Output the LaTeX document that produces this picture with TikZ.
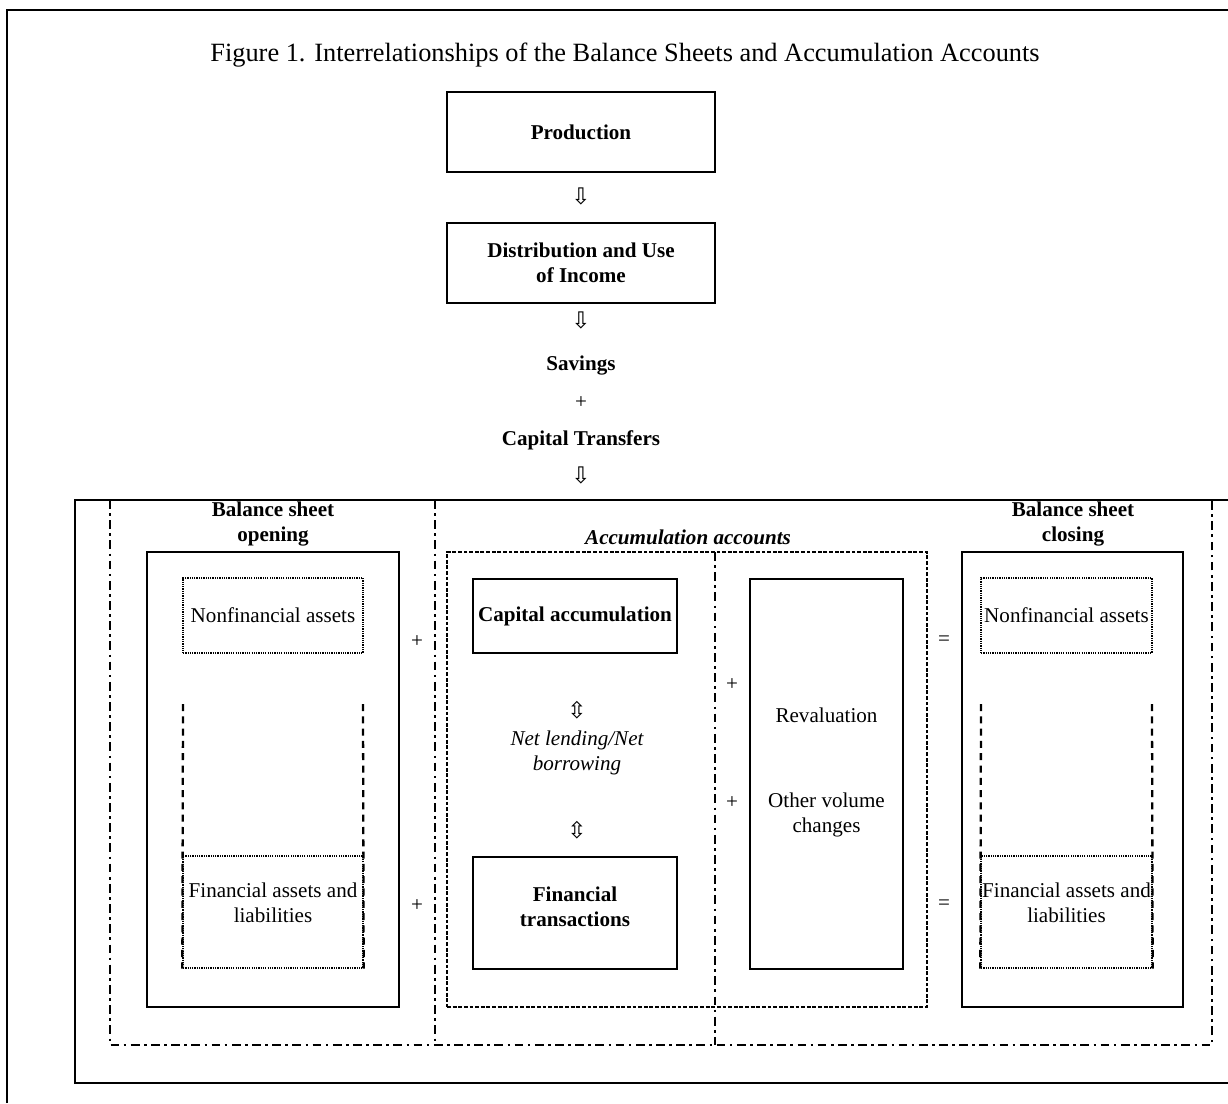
\documentclass[tikz,border=0pt,12pt]{standalone}
\usepackage{fontspec}
\setmainfont{Liberation Serif}
\newfontfamily\arrowfont{DejaVu Sans}
\tikzset{solidbox/.style = {draw, line width=1.4pt, inner sep=0pt, align=center},
         dotbox/.style = {draw, line width=0.8pt, dash pattern=on 0.7pt off 0.6pt, inner sep=0pt, align=center},
         dashbox/.style = {draw, line width=0.9pt, dash pattern=on 2.2pt off 1pt},
         dashdot/.style = {line width=1.4pt, dash pattern=on 5pt off 2.5pt on 1.5pt off 2.5pt},
         dashline/.style = {line width=1.3pt, dash pattern=on 4pt off 3pt},
         outerline/.style = {line width=1.4pt},
         flow/.style = {font=\arrowfont\fontsize{13}{15}\selectfont}}

\begin{document}
\begin{tikzpicture}[x=0.02cm, y=-0.02cm]
  \useasboundingbox (0,0) rectangle (1228,1103);
  \draw [outerline] (7,1103) -- (7,10) -- (1228,10);
  \draw [outerline] (1228,500) -- (75,500) -- (75,1083) -- (1228,1083);

  \node (title) at (625,55) {\fontsize{15}{18}\selectfont Figure 1. Interrelationships of the Balance Sheets and Accumulation Accounts};

  % income column
  \node [solidbox, minimum width=5.36cm, minimum height=1.6cm, font=\bfseries] (prod) at (581,132) {Production};
  \node [flow] (down1) at (581,196) {⇩};
  \node [solidbox, minimum width=5.36cm, minimum height=1.6cm, font=\bfseries] (dist) at (581,263) {Distribution and Use\\of Income};
  \node [flow] (down2) at (581,320) {⇩};
  \node [font=\bfseries] (sav) at (581,366) {Savings};
  \node (plus0) at (581,403) {+};
  \node [font=\bfseries] (captr) at (581,440) {Capital Transfers};
  \node [flow] (down3) at (581,475) {⇩};

  \draw [dashdot] (110,500) -- (110,1045) -- (1212,1045) -- (1212,500);
  \draw [dashdot] (435,500) -- (435,1045);
  \draw [dashdot] (715,552) -- (715,1045);

  % opening
  \node [font=\bfseries, align=center] (openlbl) at (273,524) {Balance sheet\\opening};
  \node [solidbox, minimum width=5.04cm, minimum height=9.1cm] (open) at (273,779.5) {};
  \node [dotbox, minimum width=3.6cm, minimum height=1.5cm] (nfopen) at (273,615.5) {Nonfinancial assets};
  \node [dotbox, minimum width=3.6cm, minimum height=2.24cm] (fopen) at (273,912) {};
  \node [align=center] (fopentxt) at (273,903) {Financial assets and\\liabilities};
  \draw [dashline] (183,704) -- (fopen.south west);
  \draw [dashline] (363,704) -- (fopen.south east);
  \node (plus1) at (417,642) {+};
  \node (plus2) at (417,906) {+};

  % accumulation
  \node [dashbox, minimum width=9.6cm, minimum height=9.1cm] (acc) at (687,779.5) {};
  \node [font=\bfseries\itshape] (acclbl) at (688,537) {Accumulation accounts};
  \node [solidbox, minimum width=4.08cm, minimum height=1.48cm, font=\bfseries] (capacc) at (575,616) {Capital accumulation};
  \node [flow] (updown1) at (577,710) {⇳};
  \node [font=\itshape, align=center] (netlend) at (577,753) {Net lending/Net\\borrowing};
  \node [flow] (updown2) at (577,830) {⇳};
  \node [solidbox, minimum width=4.08cm, minimum height=2.24cm] (fintr) at (575,913) {};
  \node [font=\bfseries, align=center] (fintrtxt) at (575,907) {Financial\\transactions};
  \node (plus3) at (732,685) {+};
  \node (plus4) at (732,803) {+};
  \node [solidbox, minimum width=3.06cm, minimum height=7.8cm] (reval) at (826.5,774) {};
  \node (revtxt) at (826.5,715) {Revaluation};
  \node [align=center] (othvol) at (826.5,815) {Other volume\\changes};
  \node (eq1) at (944,641) {=};
  \node (eq2) at (944,905) {=};

  % closing
  \node [font=\bfseries, align=center] (closelbl) at (1073,524) {Balance sheet\\closing};
  \node [solidbox, minimum width=4.42cm, minimum height=9.1cm] (close) at (1072.5,779.5) {};
  \node [dotbox, minimum width=3.42cm, minimum height=1.5cm] (nfclose) at (1066.5,615.5) {Nonfinancial assets};
  \node [dotbox, minimum width=3.42cm, minimum height=2.24cm] (fclose) at (1066.5,912) {};
  \node [align=center] (fclosetxt) at (1066.5,903) {Financial assets and\\liabilities};
  \draw [dashline] (981,704) -- (fclose.south west);
  \draw [dashline] (1152,704) -- (fclose.south east);
\end{tikzpicture}
\end{document}
